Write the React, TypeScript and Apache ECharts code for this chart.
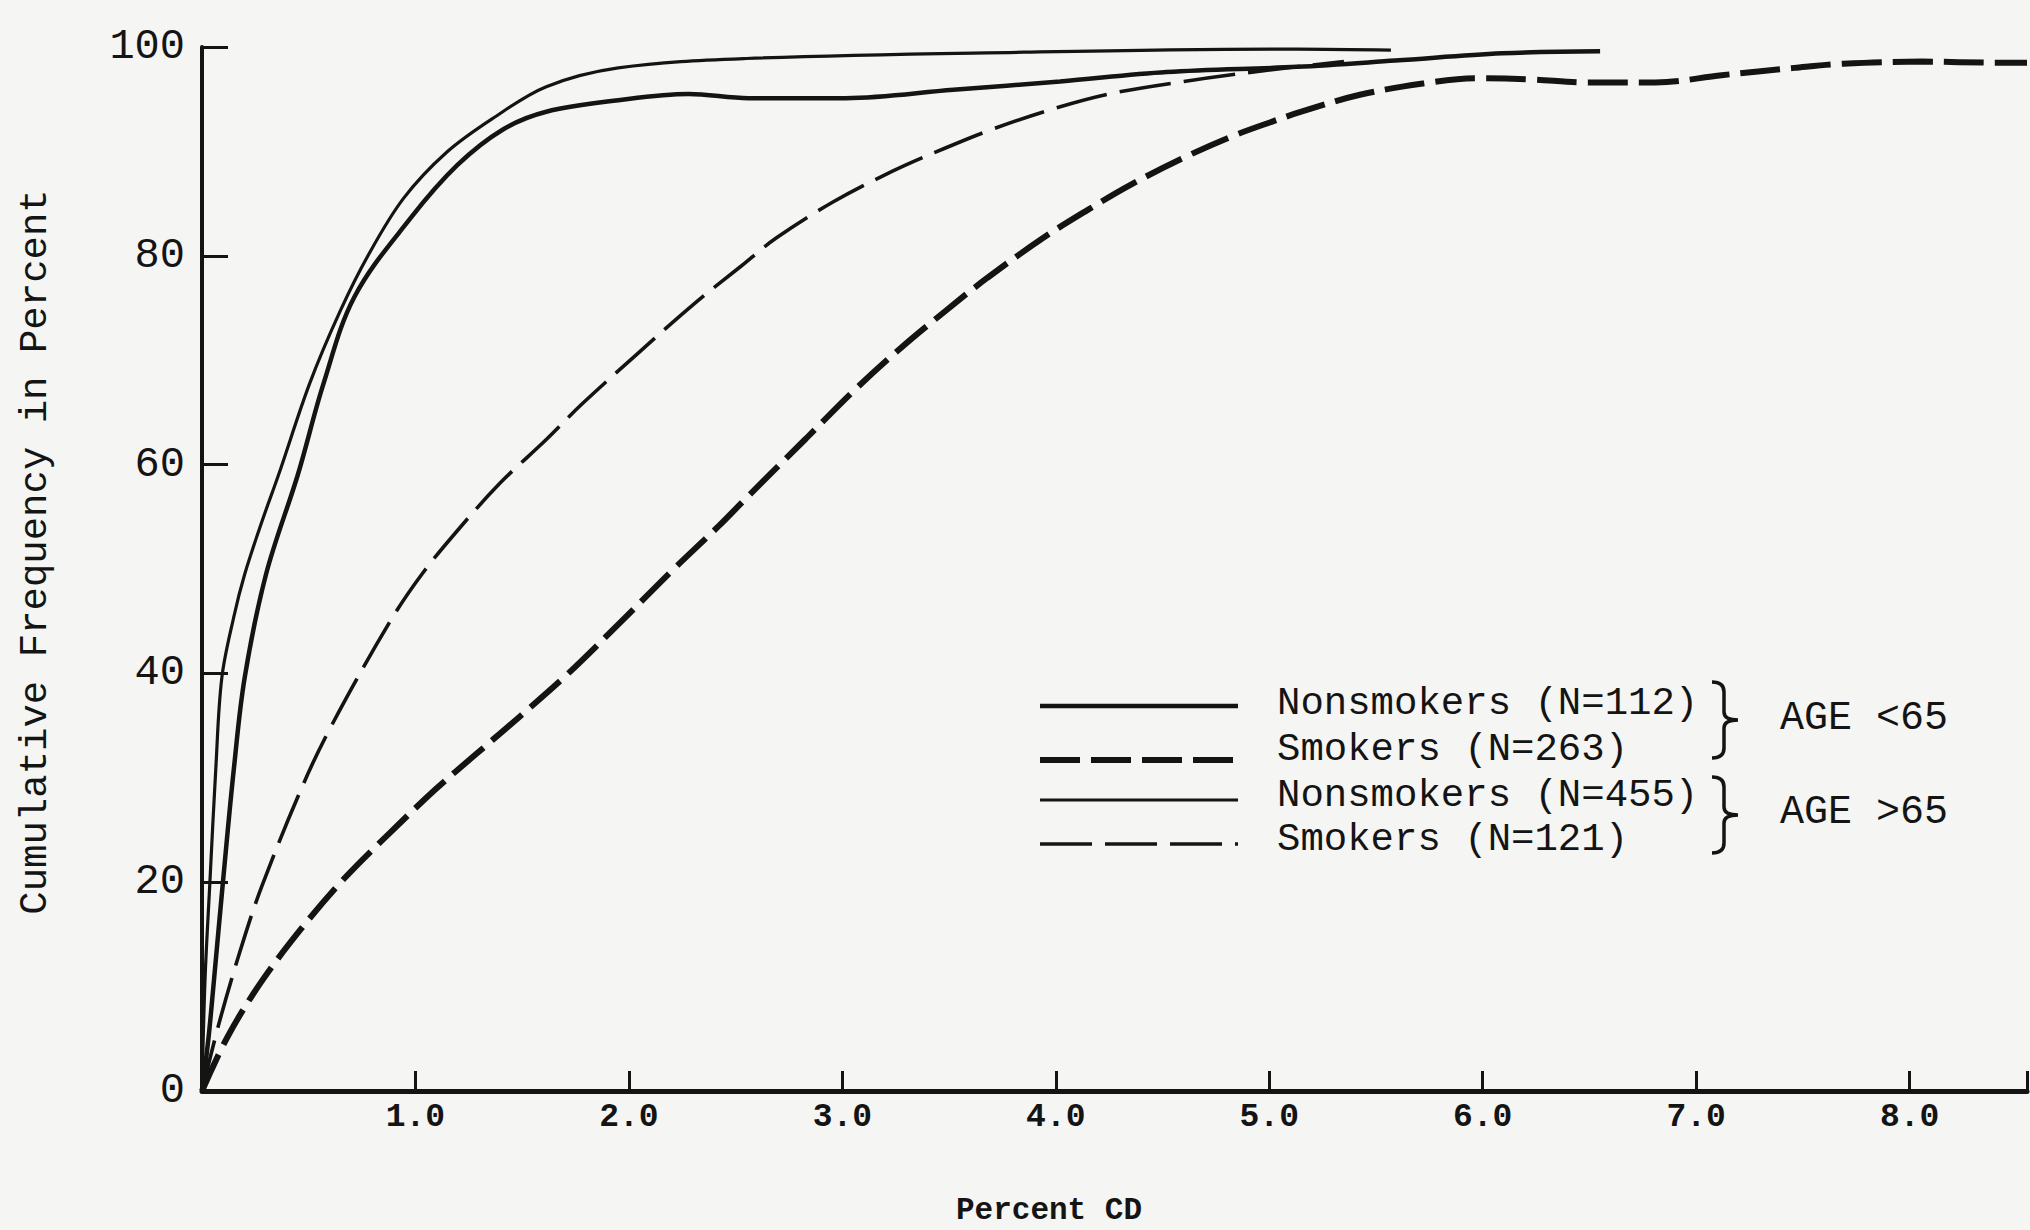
import React, { useEffect, useRef } from 'react';
import * as echarts from 'echarts';

// ---- data (x = Percent CO, y = cumulative %) ----
const xTickLabels = ['1.0', '2.0', '3.0', '4.0', '5.0', '6.0', '7.0', '8.0'];
const yTickValues = [0, 20, 40, 60, 80, 100];

// thick solid: Nonsmokers (N=112), age < 65
const nonsmokersUnder65: [number, number][] = [
  [0, 0], [0.03, 5], [0.056, 10.6], [0.098, 20], [0.15, 31], [0.2, 39.6], [0.3, 49.5],
  [0.45, 59.1], [0.57, 67.8], [0.715, 76.1], [0.977, 83.6], [1.197, 88.7], [1.41, 92.1],
  [1.613, 93.8], [1.95, 94.9], [2.28, 95.5], [2.56, 95.1], [3.015, 95.1], [3.52, 95.9],
  [4.02, 96.7], [4.52, 97.6], [5.13, 98.1], [5.59, 98.7], [6.09, 99.4], [6.55, 99.6],
];

// thick dashed: Smokers (N=263), age < 65
const smokersUnder65: [number, number][] = [
  [0, 0], [0.12, 5.2], [0.276, 10.4], [0.463, 15.5], [0.664, 20.3], [0.879, 24.7],
  [1.094, 28.9], [1.28, 32.2], [1.496, 36.0], [1.716, 40.0], [1.98, 45.3], [2.2, 49.8],
  [2.42, 54.1], [2.55, 56.8], [2.83, 62.5], [3.05, 67.0], [3.27, 71.1], [3.47, 74.5],
  [3.68, 77.9], [3.94, 81.7], [4.15, 84.4], [4.35, 86.8], [4.6, 89.4], [4.82, 91.4],
  [5.02, 92.9], [5.15, 93.8], [5.42, 95.4], [5.72, 96.5], [5.97, 97.0], [6.22, 96.9],
  [6.49, 96.6], [6.81, 96.6], [7.12, 97.3], [7.46, 98.0], [7.69, 98.4], [8.06, 98.6],
  [8.4, 98.5], [8.55, 98.5],
];

// thin solid: Nonsmokers (N=455), age > 65
const nonsmokersOver65: [number, number][] = [
  [0, 0], [0.014, 10.6], [0.037, 20], [0.065, 31], [0.093, 39.6], [0.15, 45.5], [0.2, 49.5],
  [0.28, 54.5], [0.36, 59.1], [0.505, 67.8], [0.645, 74.6], [0.78, 80.1], [0.944, 85.5],
  [1.145, 89.9], [1.365, 93.2], [1.613, 96.2], [1.95, 98.0], [2.55, 98.9], [3.85, 99.5],
  [5.13, 99.8], [5.57, 99.7],
];

// thin dashed: Smokers (N=121), age > 65
const smokersOver65: [number, number][] = [
  [0, 0], [0.08, 6.5], [0.18, 13.5], [0.28, 19.6], [0.477, 29.5], [0.612, 35.2],
  [0.879, 44.9], [1.03, 49.5], [1.21, 54.0], [1.4, 58.3], [1.613, 62.4], [1.78, 65.8],
  [2.05, 70.8], [2.3, 75.3], [2.525, 79.0], [2.69, 81.7], [2.96, 85.2], [3.235, 88.1],
  [3.48, 90.3], [3.7, 92.1], [3.976, 94.0], [4.25, 95.5], [4.6, 96.7], [5.0, 97.8],
  [5.35, 98.6],
];

const legendLabels = ['Nonsmokers (N=112)', 'Smokers (N=263)', 'Nonsmokers (N=455)', 'Smokers (N=121)'];
const groupLabels = ['AGE <65', 'AGE >65'];
const xAxisTitle = 'Percent CD';
const yAxisTitle = 'Cumulative Frequency in Percent';

const INK = '#141414';
const FONT = '"Liberation Mono", "DejaVu Sans Mono", monospace';

echarts.graphic.registerShape(
  'brace',
  echarts.graphic.extendPath('M0 0 Q12 0 12 10 L12 30 Q12 38 26 38 Q12 38 12 46 L12 66 Q12 76 0 76', {})
);

const styles = {
  thick: { width: 4.5, type: 'solid' as any },
  thickDash: { width: 6, type: [40, 11] as any },
  thin: { width: 3.2, type: 'solid' as any },
  thinDash: { width: 3.6, type: [52, 13] as any },
};

export default function App() {
  const ref = useRef<HTMLDivElement>(null);

  useEffect(() => {
    if (!ref.current) return;
    const chart = echarts.init(ref.current, undefined, { renderer: 'svg' });

    const mkSeries = (name: string, data: [number, number][], st: { width: number; type: any }) => ({
      name,
      type: 'line',
      data,
      smooth: 0.35,
      showSymbol: false,
      clip: false,
      lineStyle: { color: INK, width: st.width, type: st.type, cap: 'butt' },
    });

    const legendStyles = [styles.thick, styles.thickDash, styles.thin, styles.thinDash];
    const lineY = [706, 760, 800, 844];
    const textY = [704, 750, 796, 840];

    const graphics: any[] = [];
    legendLabels.forEach((lbl, i) => {
      const st = legendStyles[i];
      graphics.push({
        type: 'line',
        shape: { x1: 1040, y1: lineY[i], x2: 1238, y2: lineY[i] },
        style: {
          stroke: INK,
          lineWidth: st.width,
          lineDash: Array.isArray(st.type) ? st.type : null,
        },
      });
      graphics.push({
        type: 'text',
        x: 1277,
        y: textY[i],
        style: { text: lbl, font: `39px ${FONT}`, fill: INK, textAlign: 'left', textVerticalAlign: 'middle' },
      });
    });
    graphics.push({ type: 'brace', x: 1712, y: 682, style: { stroke: INK, lineWidth: 3.5, fill: 'none' } });
    graphics.push({ type: 'brace', x: 1712, y: 777, style: { stroke: INK, lineWidth: 3.5, fill: 'none' } });
    graphics.push({
      type: 'text', x: 1780, y: 718,
      style: { text: groupLabels[0], font: `40px ${FONT}`, fill: INK, textAlign: 'left', textVerticalAlign: 'middle' },
    });
    graphics.push({
      type: 'text', x: 1780, y: 812,
      style: { text: groupLabels[1], font: `40px ${FONT}`, fill: INK, textAlign: 'left', textVerticalAlign: 'middle' },
    });
    graphics.push({
      type: 'text', x: 1049, y: 1210,
      style: { text: xAxisTitle, font: `bold 31px ${FONT}`, fill: INK, textAlign: 'center', textVerticalAlign: 'middle' },
    });
    graphics.push({
      type: 'text', x: 36, y: 552, rotation: Math.PI / 2,
      style: { text: yAxisTitle, font: `39px ${FONT}`, fill: INK, textAlign: 'center', textVerticalAlign: 'middle' },
    });

    chart.setOption({
      animation: false,
      backgroundColor: '#f5f5f3',
      grid: { left: 202, right: 0, top: 47, bottom: 139 },
      xAxis: {
        type: 'value',
        min: 0,
        max: 8.55,
        interval: 1,
        axisLine: { show: true, lineStyle: { color: INK, width: 5 } },
        axisTick: { show: true, inside: true, length: 20, lineStyle: { color: INK, width: 3 } },
        axisLabel: {
          formatter: (v: number) => (Number.isInteger(v) && v >= 1 && v <= xTickLabels.length ? xTickLabels[v - 1] : ''),
          fontSize: 33,
          fontWeight: 'bold',
          fontFamily: FONT,
          color: INK,
          margin: 10,
        },
        splitLine: { show: false },
      },
      yAxis: {
        type: 'value',
        min: yTickValues[0],
        max: yTickValues[yTickValues.length - 1],
        interval: 20,
        axisLine: { show: true, lineStyle: { color: INK, width: 4 } },
        axisTick: { show: true, inside: true, length: 26, lineStyle: { color: INK, width: 3 } },
        axisLabel: { fontSize: 42, fontFamily: FONT, color: INK, margin: 17 },
        splitLine: { show: false },
      },
      series: [
        mkSeries(legendLabels[0], nonsmokersUnder65, styles.thick),
        mkSeries(legendLabels[1], smokersUnder65, styles.thickDash),
        mkSeries(legendLabels[2], nonsmokersOver65, styles.thin),
        mkSeries(legendLabels[3], smokersOver65, styles.thinDash),
      ],
      graphic: graphics,
    });

    return () => chart.dispose();
  }, []);

  return (
    <div
      ref={ref}
      style={{ position: 'fixed', left: 0, top: 0, width: '2030px', height: '1230px', background: '#f5f5f3' }}
    />
  );
}
